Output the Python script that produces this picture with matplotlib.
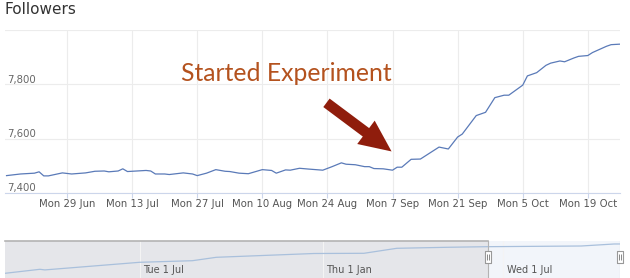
"""
plot.py
-------
Followers over time, with a navigator strip below and a note that marks
where the experiment started.
"""

import matplotlib

matplotlib.use("Agg")
import matplotlib.pyplot as plt
import pandas as pd
from matplotlib.path import Path

# Main series
dates = [
    "2015-06-16", "2015-06-19", "2015-06-22", "2015-06-23", "2015-06-24",
    "2015-06-25", "2015-06-28", "2015-06-30", "2015-07-03", "2015-07-05",
    "2015-07-07", "2015-07-08", "2015-07-10", "2015-07-11", "2015-07-12",
    "2015-07-16", "2015-07-17", "2015-07-18", "2015-07-20", "2015-07-21",
    "2015-07-24", "2015-07-26", "2015-07-27", "2015-07-29", "2015-07-31",
    "2015-08-02", "2015-08-03", "2015-08-05", "2015-08-07", "2015-08-10",
    "2015-08-12", "2015-08-13", "2015-08-15", "2015-08-16", "2015-08-18",
    "2015-08-20", "2015-08-23", "2015-08-25", "2015-08-27", "2015-08-28",
    "2015-08-30", "2015-09-01", "2015-09-02", "2015-09-03", "2015-09-05",
    "2015-09-07", "2015-09-08", "2015-09-09", "2015-09-11", "2015-09-13",
    "2015-09-15", "2015-09-17", "2015-09-19", "2015-09-21", "2015-09-22",
    "2015-09-25", "2015-09-27", "2015-09-29", "2015-10-01", "2015-10-02",
    "2015-10-05", "2015-10-06", "2015-10-08", "2015-10-10", "2015-10-11",
    "2015-10-13", "2015-10-14", "2015-10-16", "2015-10-17", "2015-10-19",
    "2015-10-20", "2015-10-23", "2015-10-24", "2015-10-26",
]
followers = [
    7464, 7470, 7473, 7478, 7463,
    7463, 7474, 7470, 7474, 7480,
    7481, 7478, 7481, 7489, 7479,
    7483, 7481, 7470, 7470, 7468,
    7474, 7470, 7464, 7473, 7486,
    7480, 7479, 7473, 7471, 7486,
    7483, 7473, 7485, 7484, 7491,
    7488, 7484, 7497, 7511, 7506,
    7504, 7497, 7497, 7490, 7489,
    7484, 7495, 7495, 7524, 7525,
    7547, 7569, 7562, 7606, 7617,
    7685, 7697, 7751, 7760, 7760,
    7797, 7831, 7843, 7870, 7878,
    7886, 7883, 7897, 7903, 7906,
    7917, 7940, 7946, 7948,
]

# Navigator (full history, coarse)
nav_dates = [
    "2014-02-16", "2014-03-23", "2014-03-28", "2014-07-01", "2014-08-23",
    "2014-09-16", "2014-12-23", "2015-02-11", "2015-03-16", "2015-05-05",
    "2015-06-14", "2015-09-17", "2015-10-20", "2015-10-26",
]
nav_values = [
    2692, 3409, 3300, 4663, 4950,
    5560, 6240, 6276, 7172, 7351,
    7460, 7584, 7943, 7948,
]

tick_dates = pd.date_range("2015-06-29", periods=9, freq="14D")
tick_labels = [
    "Mon 29 Jun", "Mon 13 Jul", "Mon 27 Jul", "Mon 10 Aug", "Mon 24 Aug",
    "Mon 7 Sep", "Mon 21 Sep", "Mon 5 Oct", "Mon 19 Oct",
]
y_ticks = [7400, 7600, 7800, 8000]
y_labels = ["7,400", "7,600", "7,800", ""]

nav_tick_dates = ["2014-07-01", "2015-01-01", "2015-07-01"]
nav_tick_labels = ["Tue 1 Jul", "Thu 1 Jan", "Wed 1 Jul"]

W, H = 630, 278


def fig_box(left, top, right, bottom):
    """Pixel box -> figure fraction rect."""
    return [left / W, 1 - bottom / H, (right - left) / W, (bottom - top) / H]


def main() -> None:
    fig = plt.figure(figsize=(W / 100, H / 100), dpi=100)
    fig.patch.set_facecolor("white")

    x = pd.to_datetime(dates)
    x_start = pd.Timestamp("2015-06-15 16:00")
    x_end = pd.Timestamp("2015-10-25 22:00")

    fig.text(5 / W, 1 - 10 / H, "Followers", fontsize=11, color="#333333",
             ha="left", va="center")

    # --- main chart ---
    ax = fig.add_axes(fig_box(5, 30, 620, 193))
    ax.plot(x, followers, color="#5a7ab8", lw=0.9)
    ax.set_xlim(x_start, x_end)
    ax.set_ylim(7400, 8000)

    for s in ["top", "left", "right"]:
        ax.spines[s].set_visible(False)
    ax.spines["bottom"].set_color("#ccd6eb")

    ax.set_xticks(tick_dates)
    ax.set_xticklabels(tick_labels)
    ax.set_yticks(y_ticks)
    ax.set_yticklabels([])
    ax.tick_params(axis="y", length=0)
    ax.tick_params(axis="x", length=3.6, color="#ccd6eb", pad=1,
                   labelsize=7.3, labelcolor="#555555")
    ax.grid(True, color="#ececec", lw=0.8)
    ax.set_axisbelow(True)

    for v, lab in zip(y_ticks, y_labels):
        ax.annotate(lab, xy=(0, v), xycoords=("axes fraction", "data"),
                    xytext=(1.5, 1.2), textcoords="offset points",
                    ha="left", va="baseline", fontsize=7.3, color="#666666")

    ax.text(pd.Timestamp("2015-08-15 05:00"), 7812, "Started Experiment",
            fontsize=17.8, color="#b4521e", family="Lato",
            ha="center", va="baseline")
    ax.annotate("", xy=(pd.Timestamp("2015-09-06 19:00"), 7553),
                xytext=(pd.Timestamp("2015-08-23 19:00"), 7732),
                arrowprops=dict(
                    arrowstyle="simple,head_length=1.15,head_width=1.05,"
                               "tail_width=0.38",
                    mutation_scale=20, color="#8f1d0c", lw=0,
                    shrinkA=0, shrinkB=0))

    # --- navigator ---
    nav = fig.add_axes(fig_box(5, 241, 620, 278))
    nav_start = pd.Timestamp("2014-02-16")
    nav.set_xlim(nav_start, x_end)
    nav.set_ylim(1850, 8480)
    nav.axvspan(nav_start, x_start, color="#e5e6ea", lw=0, zorder=0)
    nav.axvspan(x_start, x_end, color="#f2f5fa", lw=0, zorder=0)
    for d in pd.to_datetime(nav_tick_dates):
        nav.axvline(d, color="#f4f4f4", lw=0.8, zorder=0.5)
    nav.plot(pd.to_datetime(nav_dates), nav_values, color="#a9c0dc", lw=0.9)
    nav.plot([nav_start, x_start], [8480, 8480], color="#b3b3b3", lw=1.2,
             clip_on=False)
    nav.axvline(x_start, color="#b3b3b3", lw=0.8)
    nav.axvline(x_end, color="#c8c8c8", lw=0.8)
    for s in nav.spines.values():
        s.set_visible(False)
    nav.set_xticks([])
    nav.set_yticks([])
    for d, lab in zip(pd.to_datetime(nav_tick_dates), nav_tick_labels):
        nav.annotate(lab, xy=(d, 0.22), xycoords=("data", "axes fraction"),
                     xytext=(2.2, 0), textcoords="offset points",
                     ha="left", va="center", fontsize=7, color="#555555")

    # handles at selection edges
    box = Path([(-0.5, -1), (0.5, -1), (0.5, 1), (-0.5, 1), (-0.5, -1)])
    bars = Path([(-0.25, -1), (-0.25, 1), (0.25, -1), (0.25, 1)],
                [Path.MOVETO, Path.LINETO, Path.MOVETO, Path.LINETO])
    for hx in [x_start, x_end]:
        nav.plot([hx], [0.58], marker=box, ms=9, mfc="white", mec="#999999",
                 mew=0.8, transform=nav.get_xaxis_transform(), clip_on=False)
        nav.plot([hx], [0.58], marker=bars, ms=4, mec="#888888", mew=0.7,
                 transform=nav.get_xaxis_transform(), clip_on=False)

    fig.savefig("out.png", dpi=100)


if __name__ == "__main__":
    main()
